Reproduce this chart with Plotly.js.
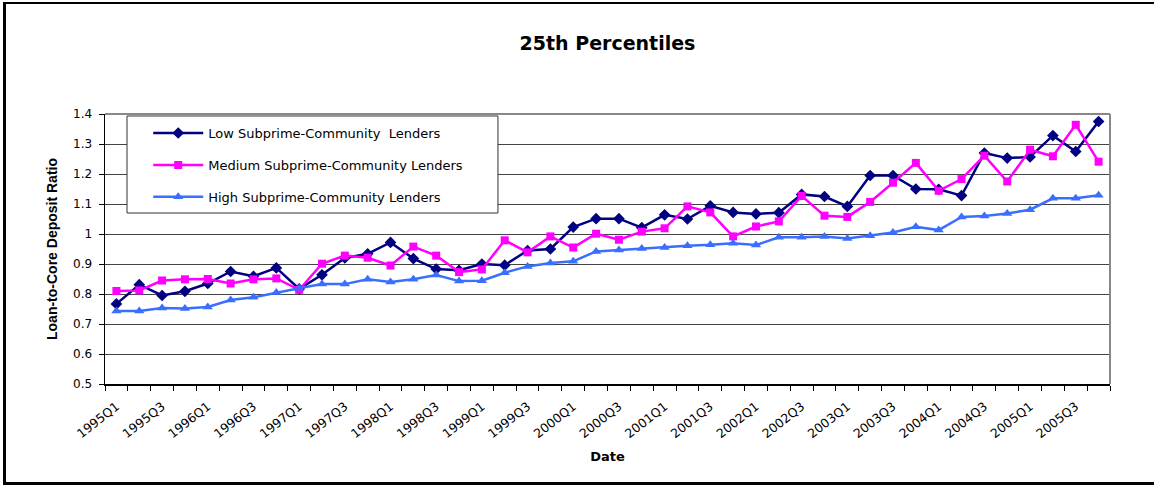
<!DOCTYPE html>
<html>
<head>
<meta charset="utf-8">
<script src="https://cdn.plot.ly/plotly-3.0.1.min.js"></script>
<style>
  html, body { margin: 0; padding: 0; background: #fff; overflow: hidden; width: 1154px; height: 485px; }
  #chart { position: absolute; left: 0; top: 0; width: 1154px; height: 485px; }
  #frame { position: absolute; left: 3px; top: 2px; width: 1148px; height: 478px;
           border-top: 2px solid #000; border-left: 3px solid #000; border-bottom: 3px solid #000;
           pointer-events: none; }
</style>
</head>
<body>
<div id="chart"></div>
<div id="frame"></div>
<script>
// Quarterly observation dates
const quarters = [
  "1995Q1","1995Q2","1995Q3","1995Q4","1996Q1","1996Q2","1996Q3","1996Q4",
  "1997Q1","1997Q2","1997Q3","1997Q4","1998Q1","1998Q2","1998Q3","1998Q4",
  "1999Q1","1999Q2","1999Q3","1999Q4","2000Q1","2000Q2","2000Q3","2000Q4",
  "2001Q1","2001Q2","2001Q3","2001Q4","2002Q1","2002Q2","2002Q3","2002Q4",
  "2003Q1","2003Q2","2003Q3","2003Q4","2004Q1","2004Q2","2004Q3","2004Q4",
  "2005Q1","2005Q2","2005Q3","2005Q4"
];

// 25th-percentile loan-to-core deposit ratios by lender group
const lowSubprime = [
  0.767, 0.831, 0.795, 0.809, 0.835, 0.875, 0.859, 0.887,
  0.817, 0.864, 0.920, 0.934, 0.972, 0.918, 0.883, 0.879,
  0.900, 0.896, 0.945, 0.950, 1.023, 1.051, 1.051, 1.021,
  1.064, 1.050, 1.094, 1.072, 1.067, 1.071, 1.132, 1.125,
  1.092, 1.195, 1.195, 1.150, 1.149, 1.128, 1.270, 1.253,
  1.257, 1.328, 1.275, 1.375
];
const mediumSubprime = [
  0.810, 0.812, 0.845, 0.849, 0.850, 0.835, 0.849, 0.852,
  0.814, 0.901, 0.928, 0.921, 0.895, 0.958, 0.928, 0.873,
  0.882, 0.979, 0.939, 0.992, 0.955, 1.001, 0.981, 1.008,
  1.019, 1.092, 1.072, 0.992, 1.025, 1.042, 1.127, 1.061,
  1.057, 1.107, 1.171, 1.237, 1.144, 1.183, 1.261, 1.175,
  1.281, 1.259, 1.364, 1.241
];
const highSubprime = [
  0.743, 0.743, 0.753, 0.752, 0.757, 0.780, 0.789, 0.805,
  0.819, 0.833, 0.833, 0.849, 0.840, 0.849, 0.863, 0.843,
  0.844, 0.871, 0.892, 0.903, 0.909, 0.942, 0.947, 0.952,
  0.955, 0.961, 0.964, 0.969, 0.963, 0.989, 0.989, 0.992,
  0.985, 0.994, 1.005, 1.024, 1.013, 1.057, 1.060, 1.068,
  1.081, 1.119, 1.119, 1.129
];

const seriesNames = [
  "Low Subprime-Community\u00a0 Lenders",
  "Medium Subprime-Community Lenders",
  "High Subprime-Community Lenders"
];

// Every other quarter gets a label; tick marks sit on every boundary
const tickText = quarters.map((q, i) => (i % 2 === 0 ? q : ""));

const font = "DejaVu Sans, Arial, sans-serif";

function series(name, y, color, symbol, size, group) {
  return {
    type: "scatter", mode: "lines+markers", name: name, x: quarters, y: y,
    legendgroup: group,
    line: { color: color, width: 2.5 },
    marker: { color: color, symbol: symbol, size: size, line: { width: 0 } }
  };
}

const traces = [
  series(seriesNames[0], lowSubprime, "#000080", "diamond", 9, "a"),
  series(seriesNames[1], mediumSubprime, "#FF00FF", "square", 8, "b"),
  series(seriesNames[2], highSubprime, "#3A6EFF", "triangle-up", 9, "c")
];

const layout = {
  width: 1154, height: 485,
  margin: { l: 105, r: 44, t: 114, b: 101 },
  paper_bgcolor: "#fff", plot_bgcolor: "#fff",
  font: { family: font, color: "#000", size: 11 },
  title: {
    text: "<b>25th Percentiles</b>",
    font: { family: font, size: 19, color: "#000" },
    x: 0.5, xref: "paper", y: 0.91, yref: "container", yanchor: "middle"
  },
  xaxis: {
    type: "category",
    range: [-0.5, quarters.length - 0.5],
    tickmode: "array", tickvals: quarters, ticktext: tickText,
    tickson: "boundaries",
    ticks: "outside", ticklen: 5, tickcolor: "#000", tickwidth: 1,
    tickangle: -38, ticklabelstandoff: 9,
    tickfont: { family: font, size: 12.5 },
    showline: true, linecolor: "#000", linewidth: 1.5,
    showgrid: false, zeroline: false,
    title: { text: "<b>Date</b>", font: { family: font, size: 13 }, standoff: 12 }
  },
  yaxis: {
    range: [0.5, 1.4], dtick: 0.1, tick0: 0.5,
    ticks: "outside", ticklen: 5, tickcolor: "#000", ticklabelstandoff: 4,
    tickfont: { family: font, size: 12 },
    showline: true, linecolor: "#000", linewidth: 1.5,
    showgrid: true, gridcolor: "#444", gridwidth: 1,
    zeroline: false,
    title: { text: "<b>Loan-to-Core Deposit Ratio</b>",
             font: { family: "Liberation Sans, Arial, sans-serif", size: 14 }, standoff: 12 }
  },
  showlegend: true,
  legend: {
    x: 0.043, y: 0.985, xanchor: "left", yanchor: "top",
    bgcolor: "rgba(0,0,0,0)", borderwidth: 0,
    font: { family: font, size: 13, color: "#000" },
    tracegroupgap: 12, itemwidth: 50
  },
  shapes: [
    // legend frame
    { type: "rect", xref: "paper", yref: "paper", x0: 0.0219, x1: 0.3910, y0: 0.6333, y1: 0.9926,
      fillcolor: "#fff", line: { color: "#333", width: 1 }, layer: "above" },
    // plot-area border, top and right
    { type: "line", xref: "paper", yref: "paper", x0: 0, x1: 1, y0: 1, y1: 1,
      line: { color: "#888", width: 2 } },
    { type: "line", xref: "paper", yref: "paper", x0: 1, x1: 1, y0: 0, y1: 1,
      line: { color: "#888", width: 2 } }
  ]
};

Plotly.newPlot("chart", traces, layout, { displayModeBar: false, staticPlot: true });
</script>
</body>
</html>
